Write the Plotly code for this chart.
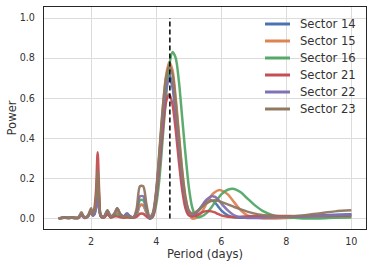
import plotly.graph_objects as go

PERIOD = [1.0, 1.1, 1.2, 1.3, 1.4, 1.5, 1.6, 1.7, 1.8, 1.9,
          2.0, 2.05, 2.1, 2.15, 2.2, 2.25, 2.3,
          2.4, 2.5, 2.6, 2.7, 2.8, 2.9, 3.0, 3.1, 3.2, 3.3, 3.4, 3.5, 3.6, 3.7,
          3.8, 3.9, 4.0, 4.1, 4.2, 4.3, 4.4, 4.5, 4.6, 4.7, 4.8, 4.9,
          5.0, 5.1, 5.2, 5.3, 5.4, 5.5, 5.6, 5.7, 5.8, 5.9,
          6.0, 6.2, 6.4, 6.6, 6.8, 7.0, 7.3, 7.6, 8.0, 8.5, 9.0, 9.5, 10.0]

SECTOR_14 = [0.0, 0.002, 0.004, 0.002, 0.004, 0.002, 0.003, 0.02, 0.003, 0.01,
             0.04, 0.015, 0.02, 0.06, 0.13, 0.05, 0.01,
             0.01, 0.04, 0.01, 0.02, 0.04, 0.02, 0.01, 0.025, 0.01, 0.005, 0.02, 0.065, 0.065, 0.03,
             0.0, 0.02, 0.13, 0.32, 0.52, 0.67, 0.72, 0.66, 0.52, 0.34, 0.18, 0.07,
             0.02, 0.01, 0.02, 0.04, 0.06, 0.08, 0.09, 0.09, 0.08, 0.06,
             0.04, 0.015, 0.005, 0.003, 0.003, 0.004, 0.006, 0.008, 0.01, 0.012, 0.015, 0.018, 0.02]

SECTOR_15 = [0.0, 0.002, 0.003, 0.002, 0.003, 0.002, 0.002, 0.02, 0.002, 0.01,
             0.04, 0.015, 0.03, 0.09, 0.20, 0.08, 0.01,
             0.005, 0.03, 0.005, 0.015, 0.03, 0.015, 0.005, 0.01, 0.005, 0.005, 0.02, 0.065, 0.065, 0.03,
             0.0, 0.02, 0.12, 0.32, 0.54, 0.71, 0.78, 0.74, 0.60, 0.42, 0.24, 0.11,
             0.03, 0.0, 0.0, 0.01, 0.03, 0.06, 0.09, 0.115, 0.13, 0.14,
             0.14, 0.12, 0.08, 0.04, 0.015, 0.005, 0.0, 0.0, 0.002, 0.004, 0.006, 0.008, 0.01]

SECTOR_16 = [0.0, 0.002, 0.003, 0.002, 0.003, 0.002, 0.002, 0.02, 0.002, 0.01,
             0.04, 0.015, 0.025, 0.07, 0.16, 0.06, 0.01,
             0.005, 0.03, 0.005, 0.01, 0.02, 0.01, 0.005, 0.01, 0.005, 0.005, 0.03, 0.09, 0.09, 0.04,
             0.0, 0.01, 0.07, 0.20, 0.40, 0.60, 0.76, 0.83, 0.80, 0.68, 0.50, 0.32,
             0.16, 0.06, 0.015, 0.005, 0.01, 0.02, 0.035, 0.055, 0.08, 0.10,
             0.12, 0.143, 0.147, 0.13, 0.10, 0.07, 0.035, 0.015, 0.005, 0.0, 0.0, 0.003, 0.005]

SECTOR_21 = [0.0, 0.003, 0.006, 0.003, 0.006, 0.003, 0.003, 0.015, 0.003, 0.01,
             0.03, 0.015, 0.05, 0.14, 0.33, 0.12, 0.01,
             0.005, 0.02, 0.005, 0.01, 0.01, 0.005, 0.003, 0.005, 0.003, 0.003, 0.008, 0.023, 0.023, 0.01,
             0.0, 0.01, 0.10, 0.26, 0.44, 0.58, 0.62, 0.57, 0.44, 0.28, 0.14, 0.05,
             0.015, 0.01, 0.012, 0.02, 0.03, 0.035, 0.037, 0.035, 0.03, 0.022,
             0.015, 0.008, 0.006, 0.008, 0.01, 0.012, 0.013, 0.013, 0.012, 0.011, 0.012, 0.013, 0.015]

SECTOR_22 = [0.0, 0.003, 0.005, 0.003, 0.005, 0.002, 0.003, 0.02, 0.003, 0.01,
             0.04, 0.015, 0.02, 0.05, 0.10, 0.04, 0.01,
             0.01, 0.035, 0.01, 0.02, 0.05, 0.02, 0.01, 0.02, 0.01, 0.005, 0.035, 0.11, 0.11, 0.05,
             0.0, 0.02, 0.12, 0.30, 0.50, 0.64, 0.70, 0.66, 0.53, 0.36, 0.20, 0.09,
             0.035, 0.02, 0.025, 0.04, 0.06, 0.085, 0.10, 0.11, 0.108, 0.095,
             0.075, 0.04, 0.015, 0.005, 0.002, 0.002, 0.003, 0.005, 0.007, 0.01, 0.013, 0.016, 0.018]

SECTOR_23 = [0.0, 0.002, 0.004, 0.002, 0.004, 0.002, 0.003, 0.03, 0.003, 0.015,
             0.05, 0.02, 0.04, 0.10, 0.24, 0.09, 0.015,
             0.01, 0.04, 0.01, 0.02, 0.05, 0.02, 0.005, 0.015, 0.005, 0.005, 0.05, 0.16, 0.16, 0.07,
             0.005, 0.03, 0.14, 0.34, 0.55, 0.70, 0.76, 0.72, 0.58, 0.40, 0.23, 0.10,
             0.04, 0.025, 0.03, 0.04, 0.055, 0.07, 0.08, 0.088, 0.09, 0.088,
             0.082, 0.07, 0.057, 0.045, 0.034, 0.025, 0.016, 0.011, 0.01, 0.015, 0.025, 0.035, 0.04]

SERIES_NAMES = ["Sector 14", "Sector 15", "Sector 16", "Sector 21", "Sector 22", "Sector 23"]
SERIES_VALUES = [SECTOR_14, SECTOR_15, SECTOR_16, SECTOR_21, SECTOR_22, SECTOR_23]
COLORS = ["#4C72B0", "#DD8452", "#55A868", "#C44E52", "#8172B3", "#937860"]

BEST_PERIOD = 4.42
X_TICKS = [2, 4, 6, 8, 10]
Y_TICKS = [0.0, 0.2, 0.4, 0.6, 0.8, 1.0]

FONT = "DejaVu Sans"
TEXT = "#333333"

# layout geometry (pixels)
W, H = 374, 267
ML, MR, MT, MB = 44, 8, 7, 38
PW, PH = W - ML - MR, H - MT - MB
LEG_LINE_X0, LEG_LINE_X1, LEG_TEXT_X = 265, 290, 298
LEG_ROW0_Y, LEG_ROW_STEP = 24, 17


def px_to_paper_x(px):
    return (px - ML) / PW


def px_to_paper_y(py):
    return (H - MB - py) / PH


fig = go.Figure()
for name, vals, col in zip(SERIES_NAMES, SERIES_VALUES, COLORS):
    fig.add_trace(go.Scatter(
        x=PERIOD, y=vals, mode="lines", name=name,
        line=dict(color=col, width=2.5, shape="spline", smoothing=0.8),
        opacity=0.95, showlegend=False,
    ))

fig.add_trace(go.Scatter(
    x=[BEST_PERIOD, BEST_PERIOD], y=[0, 1.0], mode="lines",
    line=dict(color="black", width=1.5, dash="5px,3px"),
    showlegend=False, hoverinfo="skip",
))

# legend (drawn as line samples + text labels, matplotlib style, no frame)
for i, (name, col) in enumerate(zip(SERIES_NAMES, COLORS)):
    yy = px_to_paper_y(LEG_ROW0_Y + i * LEG_ROW_STEP)
    fig.add_shape(type="line", xref="paper", yref="paper",
                  x0=px_to_paper_x(LEG_LINE_X0), x1=px_to_paper_x(LEG_LINE_X1),
                  y0=yy, y1=yy, line=dict(color=col, width=3))
    fig.add_annotation(xref="paper", yref="paper", x=px_to_paper_x(LEG_TEXT_X), y=yy,
                       text=name, showarrow=False, xanchor="left", yanchor="middle",
                       font=dict(family=FONT, size=11.6, color=TEXT))

axis_common = dict(
    showline=True, linecolor="#262626", linewidth=1.3, mirror=True,
    showgrid=True, gridcolor="#dcdcdc", gridwidth=1,
    zeroline=False, ticks="outside", tickcolor="rgba(0,0,0,0)",
    automargin=False,
    tickfont=dict(family=FONT, size=9.6, color=TEXT),
)

fig.update_layout(
    width=W, height=H, autosize=False,
    margin=dict(l=ML, r=MR, t=MT, b=MB),
    plot_bgcolor="white", paper_bgcolor="white",
    font=dict(family=FONT, color=TEXT, size=11),
    xaxis=dict(range=[0.55, 10.45], tickvals=X_TICKS,
               ticktext=[str(v) for v in X_TICKS], ticklen=3,
               title=dict(text="Period (days)", font=dict(family=FONT, size=11.6, color=TEXT), standoff=2),
               **axis_common),
    yaxis=dict(range=[-0.053, 1.055], tickvals=Y_TICKS,
               ticktext=[f"{v:.1f}" for v in Y_TICKS], ticklen=6,
               title=dict(text="Power", font=dict(family=FONT, size=11.6, color=TEXT), standoff=0),
               **axis_common),
    showlegend=False,
)

fig.write_html("out.html", config={"displayModeBar": False},
               post_script="document.body.style.margin='0';")
